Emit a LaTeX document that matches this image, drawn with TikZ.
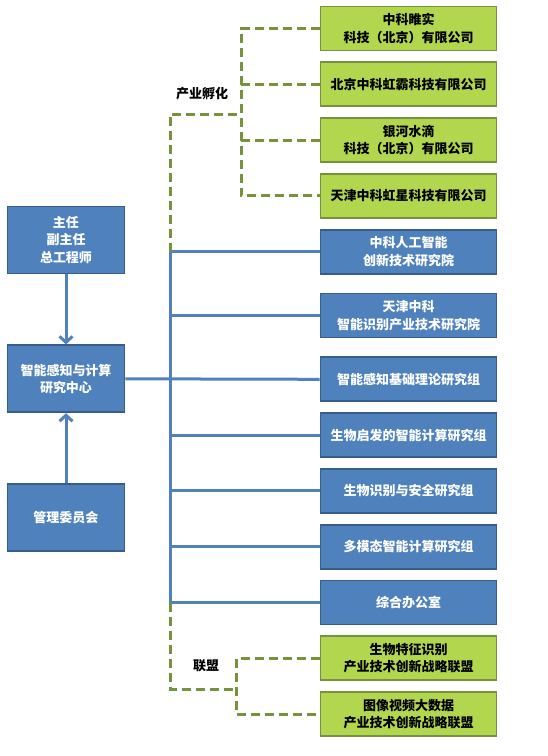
\documentclass[tikz,border=0pt]{standalone}
\usepackage{fontspec}
\setmainfont{Noto Sans CJK SC}
\usetikzlibrary{positioning, arrows.meta}
\usepackage{xcolor}
\definecolor{officeBlue}{HTML}{4F81BD}
\definecolor{officeBlueDark}{HTML}{385D8A}
\definecolor{officeGreen}{HTML}{B3D64F}
\definecolor{officeOlive}{HTML}{76923C}

\begin{document}
\begin{tikzpicture}[
    x=1pt, y=-1pt,
    node distance=10pt,
    font=\bfseries\fontsize{13}{17.5}\selectfont,
    leftbox/.style={draw=officeBlueDark, fill=officeBlue, line width=1.8pt, text=white, minimum width=117pt, minimum height=67pt, align=center},
    unitbox/.style={draw=officeBlueDark, fill=officeBlue, line width=1.8pt, text=white, minimum width=176pt, minimum height=44pt, align=center},
    firmbox/.style={draw=officeOlive, fill=officeGreen, line width=1.8pt, text=black, minimum width=176pt, minimum height=44pt, align=center},
    tree/.style={draw=officeBlue, line width=3pt},
    dashline/.style={draw=officeOlive, line width=3pt, dash pattern=on 9pt off 5pt},
    uparrow/.style={tree, -{Straight Barb[length=6pt, width=13pt]}}
]
    \useasboundingbox (0,0) rectangle (547,756);

    % left column
    \node[leftbox] (L1) at (66,240) {主任\\副主任\\总工程师};
    \node[leftbox, below=70pt of L1] (L2) {智能感知与计算\\研究中心};
    \node[leftbox, below=70pt of L2] (L3) {管理委员会};

    % right column
    \node[firmbox] (G1) at (408.5,28.5) {中科睢实\\科技（北京）有限公司};
    \node[firmbox, below=of G1] (G2) {北京中科虹霸科技有限公司};
    \node[firmbox, below=of G2] (G3) {银河水滴\\科技（北京）有限公司};
    \node[firmbox, below=of G3] (G4) {天津中科虹星科技有限公司};
    \node[unitbox, below=of G4] (B1) {中科人工智能\\创新技术研究院};
    \node[unitbox, below=18pt of B1] (B2) {天津中科\\智能识别产业技术研究院};
    \node[unitbox, below=18pt of B2] (B3) {智能感知基础理论研究组};
    \node[unitbox, below=of B3] (B4) {生物启发的智能计算研究组};
    \node[unitbox, below=of B4] (B5) {生物识别与安全研究组};
    \node[unitbox, below=of B5] (B6) {多模态智能计算研究组};
    \node[unitbox, below=of B6] (B7) {综合办公室};
    \node[firmbox, below=of B7] (G5) {生物特征识别\\产业技术创新战略联盟};
    \node[firmbox, below=of G5] (G6) {图像视频大数据\\产业技术创新战略联盟};

    \coordinate (trunk) at (170,0);
    \coordinate (incub) at (241,114);
    \coordinate (ally) at (236,689);

    % solid tree
    \draw[tree] (B1.west -| trunk) -- (B7.west -| trunk);
    \foreach \n in {B1,B2,B4,B5,B6,B7}
        \draw[tree] (\n.west) -- (\n.west -| trunk);
    \draw[tree] (L2.east) -- (B3.west);
    \draw[uparrow] (L1) -- (L2);
    \draw[uparrow] (L3) -- (L2);

    % dashed links
    \draw[dashline] (B1.west -| trunk) |- (incub);
    \draw[dashline] (G1.west) -| (incub) |- (G4.west);
    \foreach \n in {G2,G3}
        \draw[dashline] (\n.west) -- (\n.west -| incub);
    \draw[dashline] (B7.west -| trunk) |- (ally);
    \draw[dashline] (G5.west) -| (ally) |- (G6.west);

    \node (incubtext) at (202,94) {产业孵化};
    \node (allytext) at (206,666) {联盟};
\end{tikzpicture}
\end{document}
